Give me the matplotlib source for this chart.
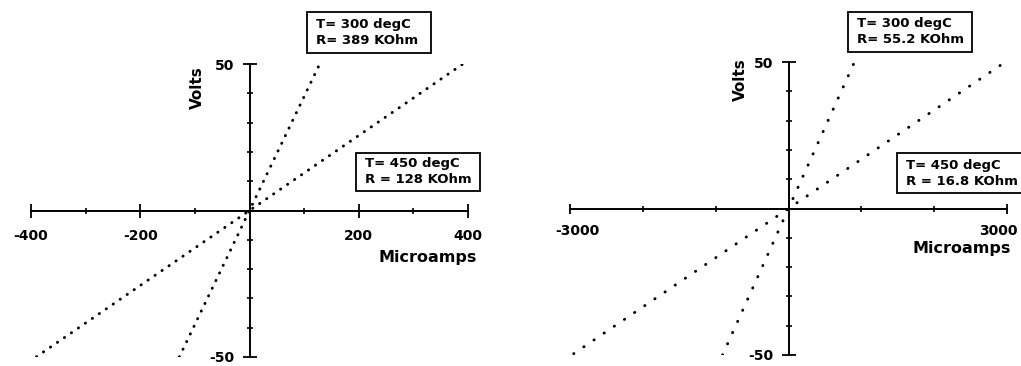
import numpy as np
import matplotlib.pyplot as plt
import matplotlib.transforms as mtransforms
from matplotlib.patches import Rectangle

# I-V data for the two samples, V = I * R
temps = [300, 450]
r_left = [389, 128]          # KOhm
r_right = [55.2, 16.8]       # KOhm
r_right_txt = ["55.2", "16.8"]
i_end_left = [128.5, 390]    # microamps, end of each trace
i_end_right = [906, 2950]

xlim_left = 400
xlim_right = 3000
vlim = 50

plt.rcParams["font.family"] = "DejaVu Sans"
plt.rcParams["font.weight"] = "bold"
plt.rcParams["font.size"] = 10

fig = plt.figure(figsize=(10.21, 3.66), dpi=100)
W, H = 1021, 366


def make_axes(x0, y_top, xmax, xmajor, xminor, xlabels, spacing):
    ax = fig.add_axes([x0 / W, (H - y_top - 293) / H, 437 / W, 293 / H])
    ax.set_xlim(-xmax, xmax)
    ax.set_ylim(-vlim, vlim)
    for s in ["top", "right"]:
        ax.spines[s].set_visible(False)
    for s in ["left", "bottom"]:
        ax.spines[s].set_position("zero")
        ax.spines[s].set_linewidth(1.4)
    ax.set_xticks(xmajor)
    ax.set_xticklabels(xlabels)
    ax.set_xticks(xminor, minor=True)
    ax.set_yticks([-vlim, vlim])
    ax.set_yticklabels(["-50", "50"])
    ax.set_yticks(np.arange(-40, 41, 10), minor=True)
    ax.tick_params(axis="x", which="major", direction="inout", length=spacing, width=1.3, pad=8)
    ax.tick_params(axis="x", which="minor", direction="inout", length=5, width=1.2)
    ax.tick_params(axis="y", which="major", direction="inout", length=9.5, width=1.3, pad=6)
    ax.tick_params(axis="y", which="minor", direction="inout", length=4.5, width=1.2)
    ax.patch.set_visible(False)
    return ax


def label_box(ax, x0, x1, y0, y1, text):
    ax.add_patch(Rectangle((x0, y0), x1 - x0, y1 - y0, transform=ax.transAxes,
                           fc="white", ec="black", lw=1.3, clip_on=False, zorder=4))
    ax.text(x0 + 0.021, (y0 + y1) / 2, text, transform=ax.transAxes, ha="left",
            va="center", fontsize=9.5, linespacing=1.3, zorder=5, clip_on=False)


ax1 = make_axes(31, 64, xlim_left,
                [-400, -200, 200, 400], [-300, -100, 0, 100, 300],
                ["-400", "-200", "200", "400"], 10)
ax2 = make_axes(570, 62, xlim_right,
                [-3000, 3000], [-2000, -1000, 0, 1000, 2000],
                ["-3000", "3000"], 7)

# end labels on the right panel sit inward of their ticks
lbl = ax2.get_xticklabels()
lbl[0].set_transform(lbl[0].get_transform() + mtransforms.ScaledTranslation(7 / 100, 0, fig.dpi_scale_trans))
lbl[1].set_transform(lbl[1].get_transform() + mtransforms.ScaledTranslation(-9 / 100, 0, fig.dpi_scale_trans))

# left panel: currents in the hundreds of microamps
for r, iend in zip(r_left, i_end_left):
    i = np.linspace(-iend, iend, 2)
    ax1.plot(i, i * r / 1000, color="black", lw=2.1,
             dashes=(0.1, 2.8), dash_capstyle="round")

label_box(ax1, 0.632, 0.915, 1.038, 1.177, f"T= {temps[0]} degC\nR= {r_left[0]} KOhm")
label_box(ax1, 0.744, 1.027, 0.567, 0.696, f"T= {temps[1]} degC\nR = {r_left[1]} KOhm")
ax1.text(0.380, 0.921, "Volts", transform=ax1.transAxes, rotation=90,
         ha="center", va="center", fontsize=11)
ax1.text(0.908, 0.341, "Microamps", transform=ax1.transAxes,
         ha="center", va="center", fontsize=11.5)

# right panel: currents in the thousands of microamps
for r, iend in zip(r_right, i_end_right):
    i = np.linspace(-iend, iend, 2)
    ax2.plot(i, i * r / 1000, color="black", lw=2.1,
             dashes=(0.1, 4.1), dash_capstyle="round")

label_box(ax2, 0.636, 0.920, 1.034, 1.171, f"T= {temps[0]} degC\nR= {r_right_txt[0]} KOhm")
label_box(ax2, 0.748, 1.034, 0.553, 0.689, f"T= {temps[1]} degC\nR = {r_right_txt[1]} KOhm")
ax2.text(0.389, 0.939, "Volts", transform=ax2.transAxes, rotation=90,
         ha="center", va="center", fontsize=11)
ax2.text(0.897, 0.365, "Microamps", transform=ax2.transAxes,
         ha="center", va="center", fontsize=11.5)

fig.savefig("out.png", dpi=100)
